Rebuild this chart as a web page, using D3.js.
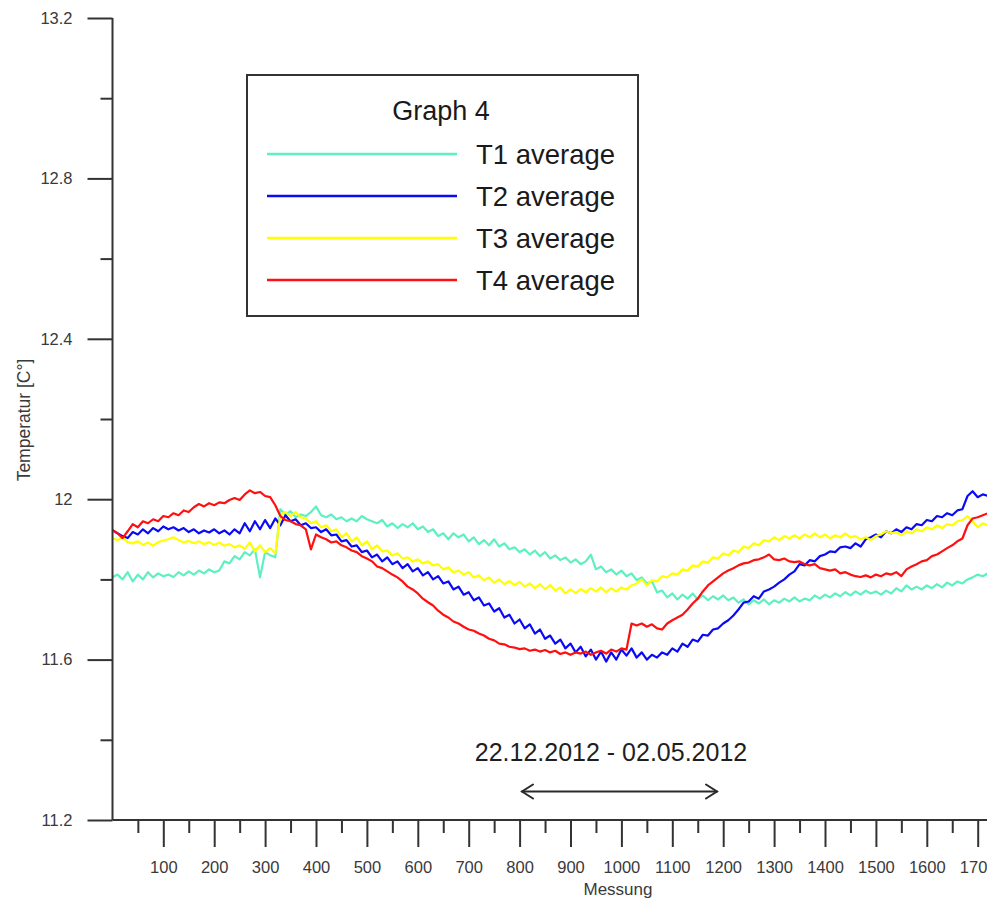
<!DOCTYPE html>
<html>
<head>
<meta charset="utf-8">
<script src="https://cdn.jsdelivr.net/npm/d3@7"></script>
<style>
  html, body { margin: 0; padding: 0; background: #fff; }
  svg { display: block; font-family: "Liberation Sans", Arial, sans-serif; }
</style>
</head>
<body>
<svg id="chart" width="987" height="898"></svg>
<script>
// Measurement index spacing of the stored readings
const step = 10;

const seriesNames = ["T1 average", "T2 average", "T3 average", "T4 average"];
const seriesColors = ["#5ef0c2", "#0a0af5", "#ffff00", "#ff1010"];

const yMajorTicks = [11.2, 11.6, 12.0, 12.4, 12.8, 13.2];
const yMinorTicks = [11.4, 11.8, 12.2, 12.6, 13.0];
const xMajorTicks = [100, 200, 300, 400, 500, 600, 700, 800, 900, 1000, 1100, 1200, 1300, 1400, 1500, 1600, 1700];
const xMinorTicks = [50, 150, 250, 350, 450, 550, 650, 750, 850, 950, 1050, 1150, 1250, 1350, 1450, 1550, 1650, 1750];

// T1 average
const t1 = [
  11.805, 11.812, 11.800, 11.818, 11.795, 11.812, 11.800, 11.818, 11.805, 11.815,
  11.808, 11.812, 11.806, 11.818, 11.810, 11.820, 11.812, 11.822, 11.815, 11.825,
  11.818, 11.822, 11.845, 11.840, 11.858, 11.850, 11.868, 11.860, 11.875, 11.805,
  11.868, 11.860, 11.855, 11.975, 11.962, 11.970, 11.955, 11.962, 11.958, 11.968,
  11.982, 11.960, 11.955, 11.962, 11.950, 11.955, 11.945, 11.952, 11.945, 11.958,
  11.950, 11.945, 11.940, 11.948, 11.932, 11.940, 11.928, 11.938, 11.930, 11.940,
  11.925, 11.932, 11.918, 11.925, 11.908, 11.915, 11.900, 11.915, 11.905, 11.912,
  11.895, 11.905, 11.888, 11.898, 11.885, 11.900, 11.882, 11.890, 11.875, 11.880,
  11.868, 11.875, 11.862, 11.872, 11.858, 11.868, 11.852, 11.860, 11.848, 11.855,
  11.842, 11.850, 11.838, 11.845, 11.862, 11.825, 11.832, 11.818, 11.825, 11.812,
  11.822, 11.808, 11.815, 11.798, 11.805, 11.790, 11.795, 11.768, 11.772, 11.755,
  11.765, 11.750, 11.762, 11.752, 11.765, 11.750, 11.760, 11.748, 11.758, 11.750,
  11.760, 11.748, 11.755, 11.742, 11.750, 11.738, 11.748, 11.740, 11.750, 11.738,
  11.748, 11.742, 11.752, 11.745, 11.755, 11.745, 11.752, 11.748, 11.760, 11.752,
  11.762, 11.755, 11.765, 11.758, 11.768, 11.760, 11.770, 11.762, 11.772, 11.765,
  11.770, 11.762, 11.772, 11.765, 11.778, 11.770, 11.785, 11.775, 11.782, 11.775,
  11.785, 11.778, 11.788, 11.780, 11.792, 11.785, 11.795, 11.790, 11.800, 11.805,
  11.812, 11.808, 11.815
];

// T2 average
const t2 = [
  11.923, 11.915, 11.908, 11.903, 11.918, 11.912, 11.925, 11.915, 11.928, 11.920,
  11.932, 11.925, 11.930, 11.922, 11.928, 11.918, 11.925, 11.915, 11.922, 11.917,
  11.925, 11.915, 11.922, 11.912, 11.925, 11.915, 11.940, 11.920, 11.945, 11.925,
  11.948, 11.928, 11.952, 11.935, 11.960, 11.945, 11.950, 11.935, 11.940, 11.928,
  11.930, 11.918, 11.925, 11.910, 11.912, 11.895, 11.898, 11.882, 11.885, 11.868,
  11.872, 11.855, 11.862, 11.845, 11.855, 11.838, 11.845, 11.828, 11.838, 11.820,
  11.828, 11.810, 11.818, 11.800, 11.808, 11.790, 11.795, 11.775, 11.782, 11.762,
  11.768, 11.748, 11.755, 11.735, 11.740, 11.720, 11.728, 11.705, 11.712, 11.690,
  11.700, 11.678, 11.688, 11.665, 11.675, 11.652, 11.660, 11.640, 11.650, 11.628,
  11.640, 11.618, 11.632, 11.608, 11.625, 11.600, 11.620, 11.595, 11.618, 11.600,
  11.625, 11.610, 11.628, 11.605, 11.618, 11.600, 11.612, 11.605, 11.618, 11.612,
  11.628, 11.620, 11.640, 11.632, 11.650, 11.645, 11.662, 11.660, 11.675, 11.678,
  11.690, 11.698, 11.710, 11.725, 11.742, 11.745, 11.758, 11.752, 11.770, 11.775,
  11.782, 11.792, 11.800, 11.812, 11.820, 11.838, 11.835, 11.848, 11.845, 11.858,
  11.862, 11.870, 11.868, 11.880, 11.882, 11.878, 11.890, 11.882, 11.900, 11.905,
  11.912, 11.905, 11.920, 11.915, 11.925, 11.918, 11.930, 11.925, 11.938, 11.935,
  11.948, 11.945, 11.958, 11.955, 11.965, 11.960, 11.972, 11.975, 12.008, 12.020,
  12.005, 12.012, 12.008
];

// T3 average
const t3 = [
  11.903, 11.898, 11.905, 11.893, 11.890, 11.895, 11.886, 11.892, 11.884, 11.893,
  11.897, 11.900, 11.905, 11.898, 11.892, 11.896, 11.890, 11.895, 11.888, 11.893,
  11.886, 11.892, 11.884, 11.888, 11.880, 11.885, 11.876, 11.892, 11.870, 11.885,
  11.868, 11.878, 11.865, 11.962, 11.968, 11.958, 11.968, 11.955, 11.952, 11.940,
  11.945, 11.930, 11.935, 11.920, 11.925, 11.905, 11.915, 11.895, 11.905, 11.885,
  11.895, 11.875, 11.885, 11.870, 11.872, 11.860, 11.865, 11.852, 11.855, 11.845,
  11.850, 11.840, 11.845, 11.835, 11.838, 11.825, 11.830, 11.818, 11.822, 11.812,
  11.818, 11.805, 11.810, 11.798, 11.805, 11.792, 11.800, 11.788, 11.796, 11.786,
  11.794, 11.782, 11.790, 11.778, 11.788, 11.776, 11.786, 11.772, 11.780, 11.765,
  11.775, 11.766, 11.776, 11.768, 11.778, 11.770, 11.780, 11.768, 11.778, 11.770,
  11.780, 11.775, 11.785, 11.790, 11.800, 11.785, 11.798, 11.795, 11.808, 11.805,
  11.815, 11.812, 11.825, 11.822, 11.835, 11.832, 11.845, 11.842, 11.855, 11.852,
  11.865, 11.860, 11.872, 11.868, 11.882, 11.878, 11.890, 11.885, 11.898, 11.895,
  11.905, 11.898, 11.908, 11.902, 11.910, 11.902, 11.912, 11.905, 11.915, 11.905,
  11.912, 11.902, 11.910, 11.905, 11.915, 11.905, 11.908, 11.900, 11.905, 11.898,
  11.908, 11.912, 11.920, 11.915, 11.918, 11.910, 11.920, 11.915, 11.925, 11.920,
  11.930, 11.925, 11.935, 11.928, 11.938, 11.935, 11.945, 11.948, 11.958, 11.945,
  11.930, 11.940, 11.935
];

// T4 average
const t4 = [
  11.923, 11.915, 11.903, 11.920, 11.938, 11.930, 11.945, 11.940, 11.950, 11.945,
  11.958, 11.955, 11.965, 11.960, 11.972, 11.968, 11.980, 11.988, 11.982, 11.990,
  11.985, 11.992, 11.990, 11.998, 12.003, 11.998, 12.012, 12.022, 12.015, 12.018,
  12.008, 12.005, 11.985, 11.958, 11.948, 11.945, 11.938, 11.935, 11.925, 11.875,
  11.912, 11.905, 11.900, 11.892, 11.895, 11.885, 11.880, 11.872, 11.868, 11.858,
  11.852, 11.845, 11.832, 11.828, 11.820, 11.812, 11.805, 11.795, 11.782, 11.775,
  11.765, 11.752, 11.743, 11.735, 11.722, 11.712, 11.705, 11.695, 11.690, 11.682,
  11.675, 11.672, 11.665, 11.660, 11.652, 11.648, 11.640, 11.638, 11.632, 11.630,
  11.626, 11.628, 11.622, 11.625, 11.620, 11.624, 11.618, 11.622, 11.614, 11.618,
  11.612, 11.618, 11.615, 11.620, 11.612, 11.618, 11.622, 11.615, 11.625, 11.620,
  11.628, 11.625, 11.690, 11.685, 11.690, 11.682, 11.688, 11.678, 11.675, 11.690,
  11.698, 11.705, 11.712, 11.725, 11.740, 11.752, 11.770, 11.785, 11.795, 11.805,
  11.815, 11.822, 11.828, 11.835, 11.840, 11.842, 11.848, 11.850, 11.855, 11.862,
  11.850, 11.848, 11.852, 11.845, 11.843, 11.845, 11.838, 11.835, 11.838, 11.828,
  11.825, 11.822, 11.825, 11.815, 11.818, 11.812, 11.808, 11.806, 11.810, 11.805,
  11.812, 11.808, 11.815, 11.812, 11.818, 11.808, 11.825, 11.832, 11.838, 11.845,
  11.848, 11.858, 11.862, 11.870, 11.878, 11.885, 11.895, 11.902, 11.935, 11.952,
  11.955, 11.960, 11.965
];

const seriesValues = [t1, t2, t3, t4];

const svg = d3.select("#chart");
const W = 987, H = 898;

const x = d3.scaleLinear().domain([0, 1700]).range([112.4, 977.7]);
const y = d3.scaleLinear().domain([11.2, 13.2]).range([820, 18]);

const axisColor = "#333";
const labelColor = "#3a3a3a";

// Clip so lines run off the right edge of the frame
svg.append("defs").append("clipPath").attr("id", "plotClip")
  .append("rect").attr("x", 113).attr("y", 0).attr("width", W - 113).attr("height", 820);

const lineGen = d3.line()
  .x((d, i) => x(i * step))
  .y(d => y(d));

const plot = svg.append("g").attr("clip-path", "url(#plotClip)");
seriesValues.forEach((vals, k) => {
  plot.append("path")
    .datum(vals)
    .attr("fill", "none")
    .attr("stroke", seriesColors[k])
    .attr("stroke-width", 2.2)
    .attr("stroke-linejoin", "round")
    .attr("d", lineGen);
});

// Y axis
const fmt = d => String(+d.toFixed(1));
const yAxisMajor = svg.append("g")
  .attr("transform", "translate(112.5,0)")
  .call(d3.axisLeft(y).tickValues(yMajorTicks).tickSize(25).tickSizeOuter(0).tickPadding(15).tickFormat(fmt));
const yAxisMinor = svg.append("g")
  .attr("transform", "translate(112.5,0)")
  .call(d3.axisLeft(y).tickValues(yMinorTicks).tickSize(12).tickSizeOuter(0).tickFormat(""));

// X axis
const xAxisMajor = svg.append("g")
  .attr("transform", "translate(0,820)")
  .call(d3.axisBottom(x).tickValues(xMajorTicks).tickSize(27).tickSizeOuter(0).tickPadding(14).tickFormat(d3.format("d")));
const xAxisMinor = svg.append("g")
  .attr("transform", "translate(0,820)")
  .call(d3.axisBottom(x).tickValues(xMinorTicks).tickSize(13).tickSizeOuter(0).tickFormat(""));

[yAxisMajor, yAxisMinor, xAxisMajor, xAxisMinor].forEach(g => {
  g.select(".domain").remove();
  g.selectAll(".tick line").attr("stroke", axisColor).attr("stroke-width", 2);
  g.selectAll(".tick text").attr("fill", labelColor).style("font-size", "16.5px")
    .style("font-family", "'Liberation Sans', Arial, sans-serif");
});

// Axis lines
svg.append("line").attr("x1", 112.5).attr("x2", 112.5).attr("y1", y(13.2)).attr("y2", y(11.2))
  .attr("stroke", axisColor).attr("stroke-width", 2);
svg.append("line").attr("x1", 112.5).attr("x2", W).attr("y1", 820).attr("y2", 820)
  .attr("stroke", axisColor).attr("stroke-width", 2);

// Axis titles
svg.append("text")
  .attr("transform", "translate(30,420) rotate(-90)")
  .attr("text-anchor", "middle")
  .attr("fill", labelColor)
  .style("font-size", "17.5px")
  .text("Temperatur [C°]");
svg.append("text")
  .attr("x", 618).attr("y", 895)
  .attr("text-anchor", "middle")
  .attr("fill", labelColor)
  .style("font-size", "17px")
  .text("Messung");

// Legend
const legend = svg.append("g");
legend.append("rect")
  .attr("x", 247).attr("y", 75).attr("width", 391).attr("height", 241)
  .attr("fill", "#fff").attr("stroke", axisColor).attr("stroke-width", 2);
legend.append("text")
  .attr("x", 441).attr("y", 111).attr("dy", "0.35em")
  .attr("text-anchor", "middle").attr("fill", "#1a1a1a")
  .style("font-size", "27px").text("Graph 4");
const legendY = [154, 196, 238, 280];
seriesNames.forEach((name, k) => {
  legend.append("line")
    .attr("x1", 267).attr("x2", 457).attr("y1", legendY[k]).attr("y2", legendY[k])
    .attr("stroke", seriesColors[k]).attr("stroke-width", 2.5);
  legend.append("text")
    .attr("x", 476).attr("y", legendY[k]).attr("dy", "0.35em")
    .attr("fill", "#1a1a1a").style("font-size", "27.5px").text(name);
});

// Date range annotation with double arrow
svg.append("text")
  .attr("x", 611).attr("y", 752).attr("dy", "0.35em")
  .attr("text-anchor", "middle").attr("fill", "#1f1f1f")
  .style("font-size", "25px").text("22.12.2012 - 02.05.2012");
const ax1 = 522, ax2 = 717, ay = 791.5;
const arrow = svg.append("g").attr("stroke", "#2a2a2a").attr("stroke-width", 2).attr("fill", "none")
  .attr("stroke-linecap", "round");
arrow.append("line").attr("x1", ax1).attr("x2", ax2).attr("y1", ay).attr("y2", ay);
arrow.append("polyline").attr("points", `${ax1 + 11},${ay - 7} ${ax1},${ay} ${ax1 + 11},${ay + 7}`);
arrow.append("polyline").attr("points", `${ax2 - 11},${ay - 7} ${ax2},${ay} ${ax2 - 11},${ay + 7}`);
</script>
</body>
</html>
